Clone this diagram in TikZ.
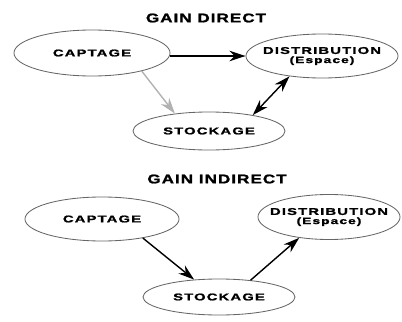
\documentclass[tikz,border=0pt]{standalone}
\usepackage{fontspec}
\usetikzlibrary{shapes.geometric,arrows.meta}
\newfontfamily\lbl{Liberation Sans}[FakeStretch=1.5,LetterSpace=12,FakeBold=1.5]
\newfontfamily\ttl{Liberation Sans}[FakeStretch=1.35,LetterSpace=8,FakeBold=1.5]

\begin{document}
\begin{tikzpicture}[x=0.025cm,y=-0.025cm,>={Stealth[length=4mm,width=2.6mm]},
	bulle/.style={draw=black!60,line width=0.6pt,ellipse,inner xsep=-1cm,inner ysep=0pt,align=center,font=\lbl\bfseries\fontsize{7}{7.5}\selectfont},
	titre/.style={font=\ttl\bfseries\fontsize{9}{10}\selectfont}]
	\useasboundingbox (0,0) rectangle (402,322);
	% gain direct
	\node[titre] (t1) at (206,18) {GAIN DIRECT};
	\node[bulle,minimum width=3.9cm,minimum height=1.15cm] (c1) at (92,53) {CAPTAGE};
	\node[bulle,minimum width=3.8cm,minimum height=1.1cm] (d1) at (322,56) {DISTRIBUTION\\[-1pt]{\fontsize{6.5}{6.5}\selectfont (Espace)}};
	\node[bulle,minimum width=3.8cm,minimum height=0.95cm] (s1) at (209,131) {STOCKAGE};
	\draw[->,line width=1.3pt] (c1.east |- d1.west) -- (d1.west);
	\draw[->,line width=1pt,gray!60] (c1.-20) -- (s1.153);
	\draw[<->,line width=1pt] (s1.20) -- (d1.212);
	% gain indirect
	\node[titre] (t2) at (217,179) {GAIN INDIRECT};
	\node[bulle,minimum width=3.85cm,minimum height=1.1cm] (c2) at (102,219) {CAPTAGE};
	\node[bulle,minimum width=3.55cm,minimum height=1.125cm] (d2) at (329,217) {DISTRIBUTION\\[-1pt]{\fontsize{6.5}{6.5}\selectfont (Espace)}};
	\node[bulle,minimum width=3.8cm,minimum height=0.9cm] (s2) at (219,297) {STOCKAGE};
	\draw[->,line width=1pt] (c2.-25) -- (s2.145);
	\draw[->,line width=1pt] (s2.28) -- (d2.215);
\end{tikzpicture}
\end{document}
